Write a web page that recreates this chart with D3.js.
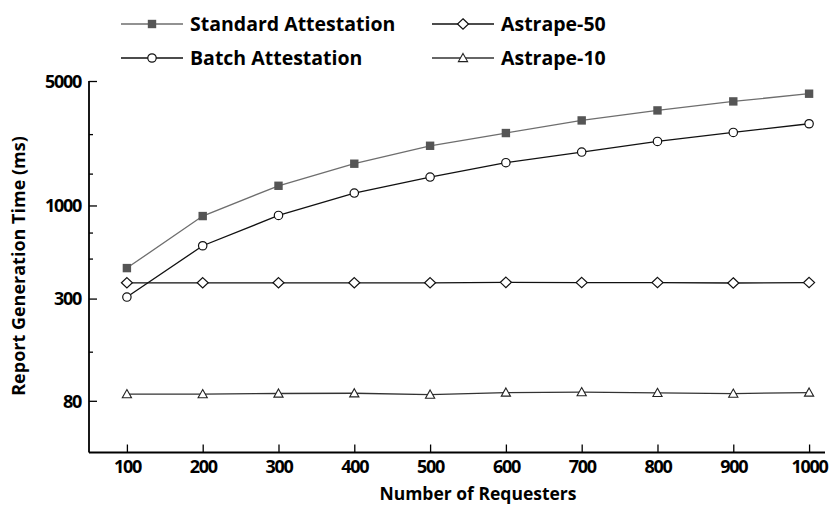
<!DOCTYPE html>
<html><head><meta charset="utf-8">
<script src="https://cdn.jsdelivr.net/npm/d3@7"></script>
<style>
body{margin:0;background:#fff;}
text{font-family:"Open Sans","Noto Sans",sans-serif;font-weight:700;fill:#000;}
</style></head>
<body><svg id="c" width="833" height="507"></svg>
<script>
const requesters = [100,200,300,400,500,600,700,800,900,1000];
const standardAttestation = [445,872,1290,1716,2164,2551,3003,3418,3840,4242];
const batchAttestation = [306,594,879,1174,1444,1738,1995,2289,2570,2877];
const astrape50 = [368,368,368,368,368,370,369,369,367,369];
const astrape10 = [87.2,87.2,87.9,88.2,86.7,89.0,89.5,88.6,87.8,89.0];
const xTicks = [100,200,300,400,500,600,700,800,900,1000];
const yMajorTicks = [80,300,1000,5000];
const yMinorTicks = [150,500,700,1500,2500];
const seriesNames = ["Standard Attestation","Batch Attestation","Astrape-50","Astrape-10"];

const svg = d3.select("#c");
const x = d3.scaleLinear().domain([50,1021]).range([89,825]);
const y = d3.scaleLog().domain([41,5000]).range([452.5,81]);

const series = [
  {name:seriesNames[0], vals:standardAttestation, line:"#6e6e6e", shape:"square", fill:"#555", stroke:"#555"},
  {name:seriesNames[1], vals:batchAttestation, line:"#111", shape:"circle", fill:"#fff", stroke:"#111"},
  {name:seriesNames[2], vals:astrape50, line:"#111", shape:"diamond", fill:"#fff", stroke:"#111"},
  {name:seriesNames[3], vals:astrape10, line:"#333", shape:"triangle", fill:"#fff", stroke:"#222"}
];

function marker(g, shape, cx, cy, s){
  if(shape==="square") g.append("rect").attr("x",cx-4.2).attr("y",cy-4.2).attr("width",8.4).attr("height",8.4).attr("fill",s.fill).attr("stroke","none");
  else if(shape==="circle") g.append("circle").attr("cx",cx).attr("cy",cy).attr("r",4.2).attr("fill",s.fill).attr("stroke",s.stroke).attr("stroke-width",1.2);
  else if(shape==="diamond") g.append("path").attr("d",`M${cx},${cy-5.2}L${cx+5.5},${cy}L${cx},${cy+5.2}L${cx-5.5},${cy}Z`).attr("fill",s.fill).attr("stroke",s.stroke).attr("stroke-width",1.2);
  else g.append("path").attr("d",`M${cx},${cy-4.6}L${cx+4.6},${cy+3.6}L${cx-4.6},${cy+3.6}Z`).attr("fill",s.fill).attr("stroke",s.stroke).attr("stroke-width",1.1);
}

// axes
const xAxis = d3.axisBottom(x).tickValues(xTicks).tickSize(-8).tickSizeOuter(0).tickPadding(8).tickFormat(d3.format("d"));
const gx = svg.append("g").attr("transform","translate(0,452.5)").call(xAxis);
gx.select(".domain").attr("stroke","#000").attr("stroke-width",1.8).attr("d","M89,0H825");
gx.selectAll(".tick line").attr("stroke","#000").attr("stroke-width",1.3);
gx.selectAll(".tick text").attr("font-size",18).attr("letter-spacing","-1.3").attr("font-family","Open Sans").attr("font-weight",700);

const yAxis = d3.axisLeft(y).tickValues(yMajorTicks).tickSize(-8).tickSizeOuter(0).tickPadding(8).tickFormat(d3.format("d"));
const gy = svg.append("g").attr("transform","translate(89,0)").call(yAxis);
gy.select(".domain").attr("stroke","#000").attr("stroke-width",1.8).attr("d","M0,81V452.5");
gy.selectAll(".tick line").attr("stroke","#000").attr("stroke-width",1.3);
gy.selectAll(".tick text").attr("font-size",18).attr("letter-spacing","-1.3").attr("font-family","Open Sans").attr("font-weight",700).attr("dy","0.35em");
gy.append("g").selectAll("line").data(yMinorTicks).join("line")
  .attr("x1",0).attr("x2",4).attr("y1",d=>y(d)).attr("y2",d=>y(d)).attr("stroke","#000").attr("stroke-width",1.3);

// lines & markers
const lineGen = d3.line().x((d,i)=>x(requesters[i])).y(d=>y(d));
series.forEach(s=>{
  svg.append("path").attr("d",lineGen(s.vals)).attr("fill","none").attr("stroke",s.line).attr("stroke-width",1.3);
});
series.forEach(s=>{
  const g = svg.append("g");
  s.vals.forEach((v,i)=>marker(g,s.shape,x(requesters[i]),y(v),s));
});

// legend
const legPos = [[121,24],[121,58],[432,24],[432,58]];
series.forEach((s,i)=>{
  const [lx,ly] = legPos[i];
  svg.append("line").attr("x1",lx).attr("x2",lx+62).attr("y1",ly).attr("y2",ly).attr("stroke",s.line).attr("stroke-width",1.3);
  const g = svg.append("g");
  marker(g,s.shape,lx+31,ly,s);
  svg.append("text").attr("x",lx+69).attr("y",ly).attr("dy","0.36em").attr("font-size",19.5).text(s.name);
});

// axis titles
svg.append("text").attr("x",478).attr("y",494).attr("dy","0.35em").attr("text-anchor","middle").attr("font-size",17.5).text("Number of Requesters");
svg.append("text").attr("transform","translate(19,266) rotate(-90)").attr("dy","0.35em").attr("text-anchor","middle").attr("font-size",18).text("Report Generation Time (ms)");
</script></body></html>
